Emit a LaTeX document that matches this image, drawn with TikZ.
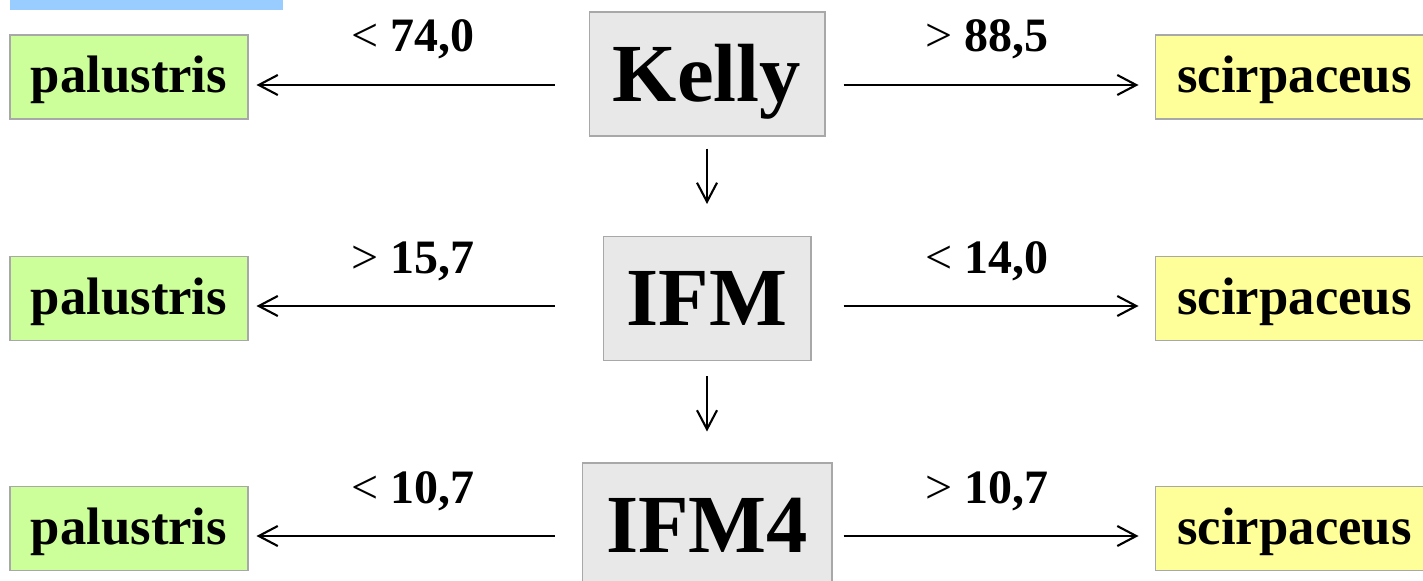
\documentclass[tikz,border=0pt]{standalone}
\usepackage{fontspec}
\setmainfont{Liberation Serif}
\usetikzlibrary{arrows.meta}
\definecolor{palgreen}{HTML}{CCFF99}
\definecolor{sciyellow}{HTML}{FFFF99}
\definecolor{methgray}{HTML}{E8E8E8}
\definecolor{edgegray}{HTML}{A8A8A8}
\definecolor{barblue}{HTML}{99CCFF}
\tikzset{
  species/.style={draw=edgegray, line width=0.6pt, inner sep=0pt,
    text height=1.16cm, text depth=0.52cm,
    font=\fontsize{30}{32}\selectfont\bfseries},
  method/.style={draw=edgegray, fill=methgray, line width=0.6pt, inner sep=0pt,
    text height=1.79cm, text depth=0.69cm,
    font=\fontsize{47}{50}\selectfont\bfseries},
  cut/.style={anchor=base, inner sep=0pt, font=\fontsize{27.3}{30}\selectfont},
  arr/.style={-{Straight Barb[length=0.38cm, width=0.4cm]}, line width=1.2pt}
}
\newcommand{\cutval}[2]{#1 \textbf{#2}}
\begin{document}
\begin{tikzpicture}[x=0.02cm, y=-0.02cm]
\useasboundingbox (0,0) rectangle (1423,581);
\fill[barblue] (10,-5) rectangle (283,10);
% rows of the arrows
\coordinate (rA) at (0,85);
\coordinate (rB) at (0,306);
\coordinate (rC) at (0,536);
% methods
\node[method, minimum width=4.72cm] (kelly) at (707,74) {Kelly};
\node[method, minimum width=4.16cm] (ifm) at (707,298.5) {IFM};
\node[method, minimum width=5.0cm] (ifmf) at (707,525) {IFM4};
% species
\node[species, fill=palgreen, minimum width=4.76cm] (palA) at (129,77) {palustris};
\node[species, fill=palgreen, minimum width=4.76cm] (palB) at (129,298.5) {palustris};
\node[species, fill=palgreen, minimum width=4.76cm] (palC) at (129,528.5) {palustris};
\node[species, fill=sciyellow, minimum width=5.58cm] (sciA) at (1294.5,77) {scirpaceus};
\node[species, fill=sciyellow, minimum width=5.58cm] (sciB) at (1294.5,298.5) {scirpaceus};
\node[species, fill=sciyellow, minimum width=5.58cm] (sciC) at (1294.5,528.5) {scirpaceus};
% thresholds
\node[cut] (ltA) at (412.5,52) {\cutval{<}{74,0}};
\node[cut] (gtA) at (986.5,52) {\cutval{>}{88,5}};
\node[cut] (ltB) at (412.5,273) {\cutval{>}{15,7}};
\node[cut] (gtB) at (986.5,273) {\cutval{<}{14,0}};
\node[cut] (ltC) at (412.5,503) {\cutval{<}{10,7}};
\node[cut] (gtC) at (986.5,503) {\cutval{>}{10,7}};
% arrows
\draw[arr, shorten <=0.68cm, shorten >=0.16cm] (kelly.west |- rA) -- (palA.east |- rA);
\draw[arr, shorten <=0.36cm, shorten >=0.32cm] (kelly.east |- rA) -- (sciA.west |- rA);
\draw[arr, shorten <=0.96cm, shorten >=0.16cm] (ifm.west |- rB) -- (palB.east |- rB);
\draw[arr, shorten <=0.64cm, shorten >=0.32cm] (ifm.east |- rB) -- (sciB.west |- rB);
\draw[arr, shorten <=0.54cm, shorten >=0.16cm] (ifmf.west |- rC) -- (palC.east |- rC);
\draw[arr, shorten <=0.22cm, shorten >=0.32cm] (ifmf.east |- rC) -- (sciC.west |- rC);
\draw[arr, shorten <=0.24cm, shorten >=0.64cm] (kelly) -- (ifm);
\draw[arr, shorten <=0.30cm, shorten >=0.62cm] (ifm) -- (ifmf);
\end{tikzpicture}
\end{document}
